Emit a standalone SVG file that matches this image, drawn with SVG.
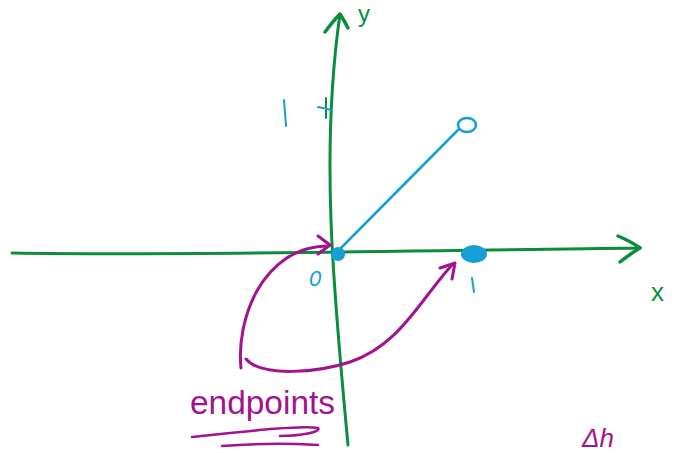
<svg xmlns="http://www.w3.org/2000/svg" width="678" height="453" viewBox="0 0 678 453">
<style>
.g{stroke:#0b8d3e;fill:none;stroke-linecap:round;stroke-linejoin:round}
.b{stroke:#169fd6;fill:none;stroke-linecap:round;stroke-linejoin:round}
.m{stroke:#a3128f;fill:none;stroke-linecap:round;stroke-linejoin:round}
.tg{fill:#0b8d3e;font-family:"Liberation Sans",sans-serif}
.tb{fill:#169fd6;font-family:"Liberation Sans",sans-serif}
.tm{fill:#a3128f;font-family:"Liberation Sans",sans-serif}
</style>
<rect width="678" height="453" fill="#fff"/>
<g id="axes">
<path class="g" stroke-width="3" d="M12,253 C200,256 450,250 640,248"/>
<path class="g" stroke-width="3.5" d="M618,236 Q632,242 640,248 Q630,254 620,262"/>
<path class="g" stroke-width="3" d="M348,445 C340,360 333,280 331,220 C328,140 332,70 340,14"/>
<path class="g" stroke-width="3.5" d="M325,32 Q334,20 340,14 Q345,22 348,28"/>
<path class="g" stroke-width="2" d="M326,98 L326,118"/>
<text class="tg" x="651" y="301" font-size="26">x</text>
<text class="tg" x="358" y="22" font-size="24">y</text>
</g>
<g id="function">
<path class="b" stroke-width="2" d="M318,107 L332,110"/>
<path class="b" stroke-width="2" d="M284,100 L286,126"/>
<path class="b" stroke-width="2.5" d="M337,252 L458,130"/>
<ellipse class="b" stroke-width="2.5" cx="467" cy="125" rx="9" ry="7"/>
<ellipse cx="338" cy="254" rx="7" ry="7" fill="#169fd6"/>
<ellipse cx="474" cy="254" rx="13" ry="9" fill="#169fd6"/>
<text class="tb" x="309" y="286" font-size="22" font-style="italic">0</text>
<path class="b" stroke-width="2" d="M472,278 L474,292"/>
</g>
<g id="connectors">
<path class="m" stroke-width="3" d="M241,368 C236,320 262,248 326,246"/>
<path class="m" stroke-width="3" d="M318,236 L330,245 L318,254"/>
<path class="m" stroke-width="3" d="M246,359 C262,378 320,372 350,362 C400,345 420,300 452,265"/>
<path class="m" stroke-width="3" d="M440,268 L455,263 L452,279"/>
</g>
<g id="label">
<text class="tm" x="190" y="414" font-size="34" textLength="145" lengthAdjust="spacingAndGlyphs">endpoints</text>
<path class="m" stroke-width="2.5" d="M192,437 C240,432 300,425 318,428 C322,432 300,436 280,436"/>
<path class="m" stroke-width="2.5" d="M222,446 C260,443 300,444 318,445"/>
<text class="tm" x="582" y="447" font-size="26" font-style="italic">Δh</text>
</g>
</svg>
